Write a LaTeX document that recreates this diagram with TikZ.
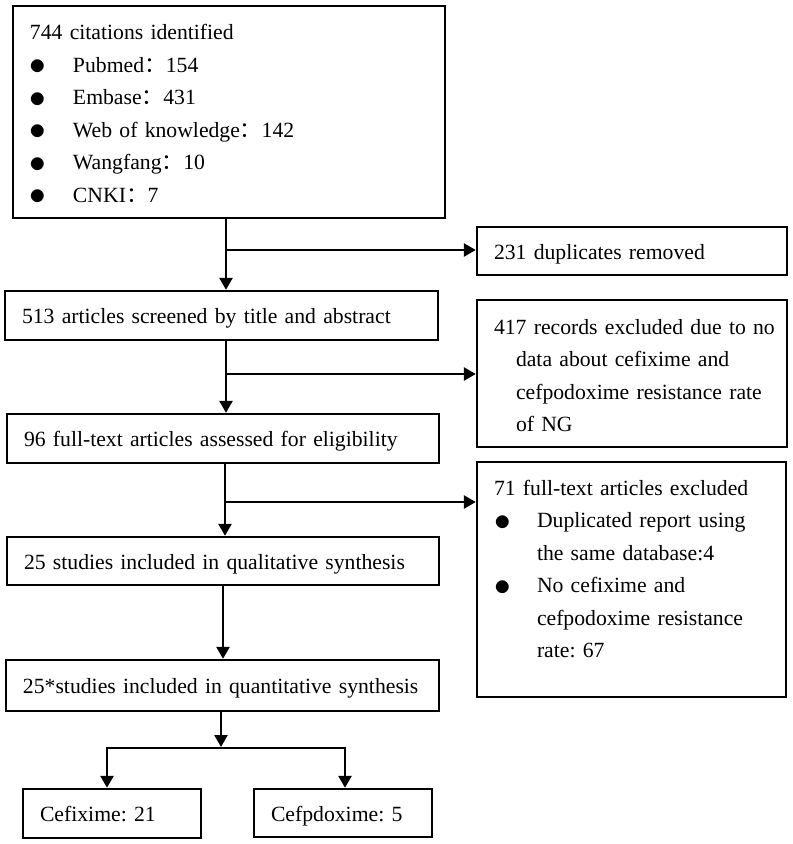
\documentclass[tikz,border=0pt]{standalone}
\usepackage{fontspec}
\setmainfont{Liberation Serif}
\newfontfamily\cjk{Noto Sans CJK SC}
\usetikzlibrary{arrows.meta}
\frenchspacing
\newcommand\fwc{{\cjk ：}}
\newcommand\blt{\makebox[43pt][l]{\raisebox{-2.5pt}{\scalebox{1.6}{$\bullet$}}}}
\newcommand\ind{\hspace*{43pt}}
\begin{document}
\begin{tikzpicture}[x=1pt,y=-1pt,
  box/.style={draw, line width=2.4pt, inner xsep=17pt, inner ysep=0pt, align=left,
    font=\fontsize{21.7}{32.5}\selectfont\frenchspacing},
  one/.style={box, text height=16pt, text depth=0pt},
  conn/.style={line width=2.6pt, -{Triangle[length=12pt,width=13pt]}},
  fork/.style={line width=2.6pt, line join=miter, {Triangle[length=12pt,width=13pt]}-{Triangle[length=12pt,width=13pt]}}]
\useasboundingbox (0,0) rectangle (793,844);

\node[box, text width=398pt, minimum height=212pt, text height=0pt, text depth=145pt] (n1) at (229,112) {744 citations identified\\
\blt Pubmed\fwc 154\\
\blt Embase\fwc 431\\
\blt Web of knowledge\fwc 142\\
\blt Wangfang\fwc 10\\
\blt CNKI\fwc 7};

\node[one, text width=276pt, minimum height=48pt] (d231) at (632,251) {231 duplicates removed};
\node[one, text width=399pt, minimum height=49pt] (n513) at (221.5,315.5) {513 articles screened by title and abstract};
\node[box, text width=276pt, minimum height=147pt, text height=0pt, text depth=79pt] (e417) at (632,373.5) {\mbox{417 records excluded due to no}\\
\hspace*{22pt}data about cefixime and\\
\hspace*{22pt}\mbox{cefpodoxime resistance rate}\\
\hspace*{22pt}of NG};
\node[one, text width=398pt, minimum height=49pt] (n96) at (223,438.5) {96 full-text articles assessed for eligibility};
\node[box, text width=275pt, minimum height=235pt, text height=0pt, text depth=169pt] (e71) at (631.5,579.5) {\mbox{71 full-text articles excluded}\\
\blt Duplicated report using\\
\ind the same database:4\\
\blt No cefixime and\\
\ind cefpodoxime resistance\\
\ind rate: 67};
\node[one, text width=398pt, minimum height=48pt] (n25) at (223,561) {25 studies included in qualitative synthesis};
\node[one, text width=399pt, minimum height=51pt] (n25s) at (222.5,685.5) {25*studies included in quantitative synthesis};
\node[one, text width=144pt, minimum height=49pt] (cef) at (112,813.5) {Cefixime: 21};
\node[one, text width=144pt, minimum height=48pt] (cefp) at (343,813) {Cefpdoxime: 5};

\coordinate (s1) at (226,250);
\coordinate (s2) at (226,374);
\coordinate (s3) at (225,502);
\coordinate (s4) at (223,600);
\coordinate (f0) at (221,747);
\coordinate (f1) at (107,748);
\coordinate (f2) at (345,748);

\draw[conn] (n1.south -| s1) -- (n513.north -| s1);
\draw[conn] (s1) -- (s1 -| d231.west);
\draw[conn] (n513.south -| s2) -- (n96.north -| s2);
\draw[conn] (s2) -- (s2 -| e417.west);
\draw[conn] (n96.south -| s3) -- (n25.north -| s3);
\draw[conn] (s3) -- (s3 -| e71.west);
\draw[conn] (n25.south -| s4) -- (n25s.north -| s4);
\draw[conn] (n25s.south -| f0) -- (f0);
\draw[fork] (cef.north -| f1) -- (f1) -- (f2) -- (cefp.north -| f2);
\end{tikzpicture}
\end{document}
